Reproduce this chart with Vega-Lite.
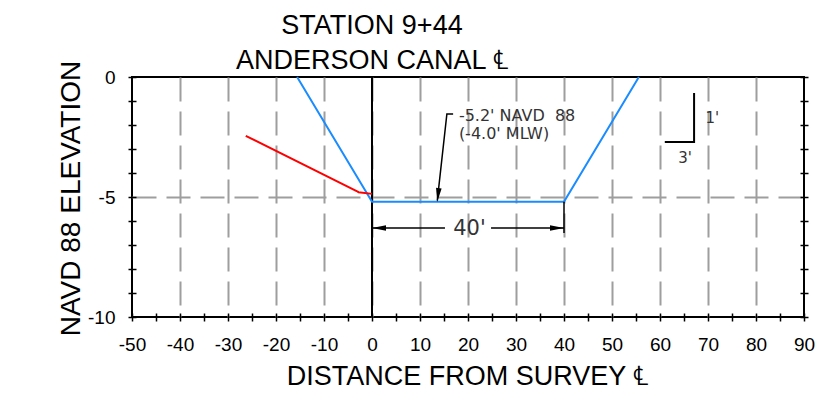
{
  "$schema": "https://vega.github.io/schema/vega-lite/v6.json",
  "width": 672,
  "height": 240,
  "autosize": "none",
  "padding": {"left": 132, "top": 77, "right": 12, "bottom": 90},
  "background": "white",
  "config": {
    "view": {"stroke": "#000000", "strokeWidth": 2},
    "font": "Liberation Sans",
    "axis": {
      "labelFont": "Liberation Sans",
      "titleFont": "Liberation Sans",
      "labelFontSize": 19,
      "titleFontSize": 28,
      "titleFontWeight": "normal",
      "labelColor": "#000000",
      "titleColor": "#000000",
      "tickColor": "#000000",
      "tickWidth": 1.5,
      "domain": false,
      "gridColor": "#9e9e9e",
      "gridWidth": 2,
      "gridDash": [24, 10],
      "labelFlush": false,
      "labelOverlap": false,
      "labelBound": false
    }
  },
  "title": {
    "text": ["STATION 9+44", "ANDERSON CANAL ℄"],
    "anchor": "middle",
    "frame": "group",
    "dx": -96,
    "fontSize": 27,
    "font": "Liberation Sans",
    "fontWeight": "normal",
    "color": "#000000",
    "lineHeight": 35,
    "offset": -15
  },
  "datasets": {
    "centerline": [{"x": 0, "y": 0, "y2": -10}],
    "channel": [
      {"x": -15.6, "y": 0},
      {"x": 0, "y": -5.2},
      {"x": 40, "y": -5.2},
      {"x": 55.6, "y": 0}
    ],
    "existing": [
      {"x": -26.3, "y": -2.45},
      {"x": -3.2, "y": -4.75},
      {"x": -2.8, "y": -4.8},
      {"x": 0, "y": -4.87}
    ],
    "leader": [
      {"x": 16.9, "y": -1.54, "k": 1},
      {"x": 15.6, "y": -1.54, "k": 2},
      {"x": 13.6, "y": -5.15, "k": 3}
    ],
    "slope": [
      {"x": 61.0, "y": -2.71, "k": 1},
      {"x": 67.1, "y": -2.71, "k": 2},
      {"x": 67.1, "y": -0.67, "k": 3}
    ],
    "dimline": [
      {"x": 0, "x2": 15.2, "y": -6.29},
      {"x": 24.8, "x2": 40, "y": -6.29}
    ],
    "extension": [{"x": 40, "y": -5.2, "y2": -6.5}],
    "note": [
      {"text": "-5.2' NAVD\u00a0 88", "x": 18.1, "y": -1.83},
      {"text": "(-4.0' MLW)", "x": 18.1, "y": -2.58}
    ],
    "slopelabels": [
      {"text": "1'", "x": 70.9, "y": -1.71},
      {"text": "3'", "x": 65.2, "y": -3.38}
    ],
    "dimlabel": [{"text": "40'", "x": 20.3, "y": -6.58}]
  },
  "layer": [
    {
      "data": {"name": "centerline"},
      "mark": {"type": "rule", "color": "#000000", "strokeWidth": 2},
      "encoding": {
        "x": {
          "field": "x", "type": "quantitative",
          "scale": {"domain": [-50, 90], "nice": false, "zero": false},
          "axis": {
            "orient": "bottom",
            "values": [-40, -30, -20, -10, 0, 10, 20, 30, 40, 50, 60, 70, 80],
            "grid": true,
            "labels": false,
            "ticks": false,
            "title": null
          }
        },
        "y": {
          "field": "y", "type": "quantitative",
          "scale": {"domain": [-10, 0], "nice": false, "zero": false},
          "axis": {
            "orient": "right",
            "values": [-10, -9, -8, -7, -6, -5, -4, -3, -2, -1, 0],
            "offset": -4,
            "tickSize": 8,
            "labels": false,
            "grid": false,
            "title": null
          }
        },
        "y2": {"field": "y2"}
      }
    },
    {
      "data": {"name": "channel"},
      "mark": {"type": "line", "color": "#1a8cff", "strokeWidth": 2},
      "encoding": {
        "x": {
          "field": "x", "type": "quantitative",
          "axis": {
            "orient": "bottom",
            "values": [-50, -45, -40, -35, -30, -25, -20, -15, -10, -5, 0, 5, 10, 15, 20, 25, 30, 35, 40, 45, 50, 55, 60, 65, 70, 75, 80, 85, 90],
            "labelExpr": "datum.value % 10 === 0 ? '' + datum.value : ''",
            "offset": -4,
            "tickSize": 8,
            "labelPadding": 14,
            "grid": false,
            "title": null
          }
        },
        "y": {
          "field": "y", "type": "quantitative",
          "axis": {
            "orient": "left",
            "values": [-10, -9, -8, -7, -6, -5, -4, -3, -2, -1, 0],
            "labelExpr": "datum.value % 5 === 0 ? '' + datum.value : ''",
            "offset": -4,
            "tickSize": 8,
            "labelPadding": 13,
            "grid": true,
            "gridOpacity": {"condition": {"test": "datum.value !== -5", "value": 0}, "value": 1},
            "title": "NAVD 88 ELEVATION",
            "titleX": -57,
            "titleY": 121,
            "titleAngle": -90,
            "titleAlign": "center",
            "titleBaseline": "alphabetic"
          }
        }
      }
    },
    {
      "data": {"name": "existing"},
      "mark": {"type": "line", "color": "#ff0000", "strokeWidth": 2},
      "encoding": {
        "x": {
          "field": "x", "type": "quantitative",
          "axis": {
            "orient": "bottom",
            "labels": false,
            "ticks": false,
            "grid": false,
            "title": "DISTANCE FROM SURVEY ℄",
            "titleFontSize": 27,
            "titleX": 335,
            "titleY": 67,
            "titleAlign": "center",
            "titleBaseline": "alphabetic"
          }
        },
        "y": {"field": "y", "type": "quantitative", "axis": null}
      }
    },
    {
      "data": {"name": "leader"},
      "mark": {"type": "line", "color": "#000000", "strokeWidth": 1.5},
      "encoding": {
        "x": {"field": "x", "type": "quantitative", "axis": null},
        "y": {"field": "y", "type": "quantitative", "axis": null},
        "order": {"field": "k", "type": "quantitative"}
      }
    },
    {
      "data": {"values": [{"x": 13.6, "y": -5.21}]},
      "mark": {"type": "point", "shape": "M0,0L-0.4,-2L0.4,-2Z", "filled": true, "color": "#000000", "opacity": 1, "size": 196, "angle": 6.3, "strokeWidth": 0},
      "encoding": {
        "x": {"field": "x", "type": "quantitative", "axis": null},
        "y": {"field": "y", "type": "quantitative", "axis": null}
      }
    },
    {
      "data": {"name": "slope"},
      "mark": {"type": "line", "color": "#000000", "strokeWidth": 2},
      "encoding": {
        "x": {"field": "x", "type": "quantitative", "axis": null},
        "y": {"field": "y", "type": "quantitative", "axis": null},
        "order": {"field": "k", "type": "quantitative"}
      }
    },
    {
      "data": {"name": "dimline"},
      "mark": {"type": "rule", "color": "#000000", "strokeWidth": 1.5},
      "encoding": {
        "x": {"field": "x", "type": "quantitative", "axis": null},
        "x2": {"field": "x2"},
        "y": {"field": "y", "type": "quantitative", "axis": null}
      }
    },
    {
      "data": {"name": "extension"},
      "mark": {"type": "rule", "color": "#000000", "strokeWidth": 1.5},
      "encoding": {
        "x": {"field": "x", "type": "quantitative", "axis": null},
        "y": {"field": "y", "type": "quantitative", "axis": null},
        "y2": {"field": "y2"}
      }
    },
    {
      "data": {"values": [{"x": 0, "y": -6.29}]},
      "mark": {"type": "point", "shape": "M0,0L2,-0.4L2,0.4Z", "filled": true, "color": "#000000", "opacity": 1, "size": 196, "strokeWidth": 0},
      "encoding": {
        "x": {"field": "x", "type": "quantitative", "axis": null},
        "y": {"field": "y", "type": "quantitative", "axis": null}
      }
    },
    {
      "data": {"values": [{"x": 40, "y": -6.29}]},
      "mark": {"type": "point", "shape": "M0,0L-2,-0.4L-2,0.4Z", "filled": true, "color": "#000000", "opacity": 1, "size": 196, "strokeWidth": 0},
      "encoding": {
        "x": {"field": "x", "type": "quantitative", "axis": null},
        "y": {"field": "y", "type": "quantitative", "axis": null}
      }
    },
    {
      "data": {"name": "note"},
      "mark": {"type": "text", "font": "DejaVu Sans", "fontSize": 16, "color": "#333333", "align": "left", "baseline": "alphabetic"},
      "encoding": {
        "x": {"field": "x", "type": "quantitative", "axis": null},
        "y": {"field": "y", "type": "quantitative", "axis": null},
        "text": {"field": "text"}
      }
    },
    {
      "data": {"name": "slopelabels"},
      "mark": {"type": "text", "font": "DejaVu Sans", "fontSize": 15, "color": "#333333", "align": "center", "baseline": "middle"},
      "encoding": {
        "x": {"field": "x", "type": "quantitative", "axis": null},
        "y": {"field": "y", "type": "quantitative", "axis": null},
        "text": {"field": "text"}
      }
    },
    {
      "data": {"name": "dimlabel"},
      "mark": {"type": "text", "font": "DejaVu Sans", "fontSize": 21, "color": "#333333", "align": "center", "baseline": "alphabetic"},
      "encoding": {
        "x": {"field": "x", "type": "quantitative", "axis": null},
        "y": {"field": "y", "type": "quantitative", "axis": null},
        "text": {"field": "text"}
      }
    }
  ],
  "resolve": {"axis": {"x": "independent", "y": "independent"}}
}
